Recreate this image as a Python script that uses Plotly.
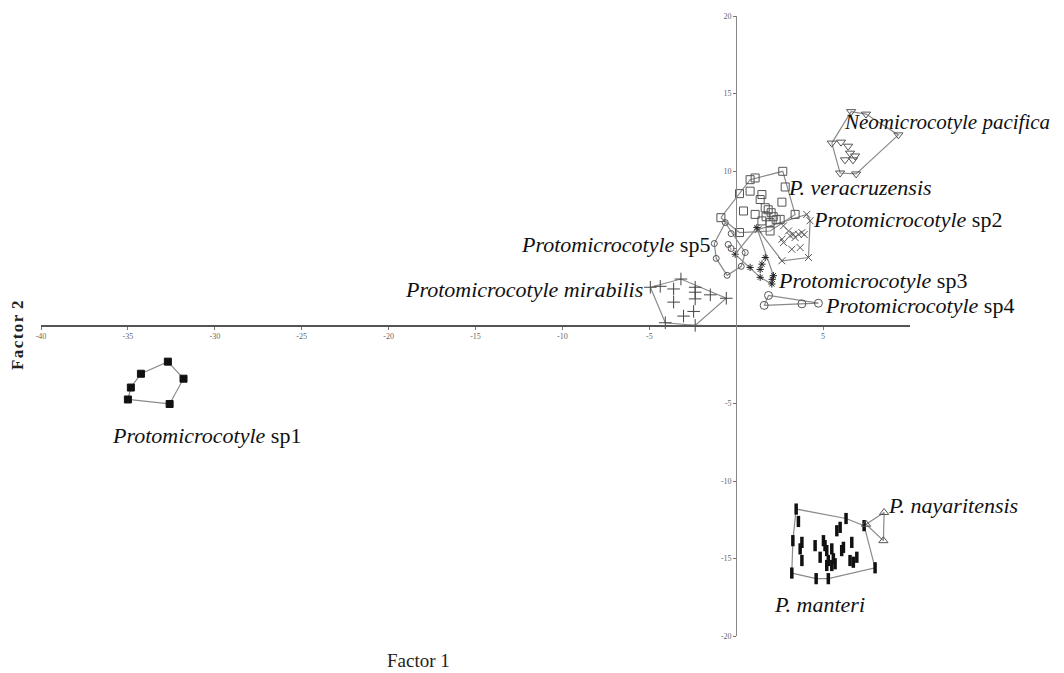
import plotly.graph_objects as go

# ---------------- data (Factor 1, Factor 2) ----------------
sp1_x = [-32.7, -34.25, -34.83, -35.0, -32.6, -31.8]
sp1_y = [-2.3, -3.08, -3.97, -4.74, -5.03, -3.4]

pacifica_x = [6.61, 7.47, 9.33, 5.5, 6.03, 6.44, 6.26, 6.72, 6.84, 5.98, 6.9, 6.55]
pacifica_y = [13.83, 13.67, 12.33, 11.8, 11.86, 11.6, 10.72, 10.72, 10.97, 9.87, 9.81, 11.15]

veracruz_x = [2.68, 1.09, 0.80, 0.80, 0.19, 2.82, 1.48, 1.38, 2.63, 0.42, 1.09, 1.67,
              1.84, 2.01, 2.13, 1.72, 2.30, 3.39, -0.88, 0.19, 1.48, 1.95, 1.95, 2.53]
veracruz_y = [9.98, 9.55, 9.44, 8.70, 8.54, 8.97, 8.48, 8.16, 7.99, 7.42, 7.20, 7.63,
              7.50, 7.31, 7.05, 7.05, 6.86, 7.20, 6.99, 6.03, 6.78, 6.67, 6.13, 6.88]

sp2_x = [1.26, 4.06, 4.25, 4.16, 2.63, 2.72, 3.01, 3.29, 3.58, 3.78, 3.91, 2.63, 2.72,
         3.20, 3.68, 3.39, 3.10]
sp2_y = [6.22, 7.20, 6.79, 4.42, 4.21, 6.46, 6.13, 5.92, 5.92, 6.03, 5.90, 5.60, 5.38,
         4.95, 5.06, 5.71, 5.83]

sp3_x = [1.19, -0.06, 0.80, 1.38, 2.05, 2.14, 1.67, 1.48, 1.38, 2.07]
sp3_y = [6.35, 4.63, 3.78, 3.14, 2.71, 3.25, 4.42, 3.99, 3.65, 3.01]

sp4_x = [1.86, 1.61, 3.78, 4.73]
sp4_y = [1.97, 1.33, 1.43, 1.47]

sp5_x = [-0.63, -1.26, -1.15, -0.52, 0.29, 0.52, -0.29, -0.46, -0.29]
sp5_y = [6.67, 5.32, 4.36, 3.27, 3.85, 4.74, 5.96, 5.26, 5.0]

mirabilis_x = [-4.94, -4.37, -3.18, -3.60, -2.36, -2.36, -1.49, -0.57, -3.60, -2.36,
               -2.45, -3.03, -4.08, -2.36]
mirabilis_y = [2.50, 2.56, 3.03, 2.39, 2.50, 2.18, 2.01, 1.79, 1.54, 1.75,
               0.94, 0.64, 0.21, 0.04]

manteri_x = [3.45, 6.32, 7.36, 7.99, 5.30, 4.60, 3.20, 3.26, 3.58, 3.78, 3.68, 3.78, 4.54,
             5.02, 5.11, 5.21, 5.50, 4.83, 5.30, 5.21, 5.50, 5.69, 5.79, 5.98, 6.17, 6.07,
             6.65, 6.55, 6.74, 6.94, 5.59]
manteri_y = [-11.81, -12.42, -12.88, -15.60, -16.30, -16.30, -15.94, -13.85, -12.61, -13.96,
             -14.38, -15.13, -14.17, -13.85, -14.17, -14.49, -14.38, -14.92, -15.13, -15.45,
             -15.45, -15.34, -13.21, -12.99, -14.28, -14.49, -13.96, -15.13, -15.24, -14.92,
             -15.02]

nayarit_x = [8.51, 8.47, 7.47]
nayarit_y = [-12.03, -13.85, -12.79]

x_ticks = [-40, -35, -30, -25, -20, -15, -10, -5, 5]
y_ticks = [20, 15, 10, 5, -5, -10, -15, -20]

groups = [
    # name, xs, ys, symbol, size, color, line width, label text, label x, label y, anchor, font size
    ("Protomicrocotyle sp1", sp1_x, sp1_y, "square", 7, "#111111", 1,
     "<i>Protomicrocotyle</i> sp1", -36.03, -7.05, "left", 22),
    ("Neomicrocotyle pacifica", pacifica_x, pacifica_y, "triangle-down-open", 8, "#555555", 1,
     "<i>Neomicrocotyle pacifica</i>", 6.1, 13.14, "left", 21),
    ("P. veracruzensis", veracruz_x, veracruz_y, "square-open", 8, "#555555", 1,
     "<i>P. veracruzensis</i>", 2.87, 8.91, "left", 22),
    ("Protomicrocotyle sp2", sp2_x, sp2_y, "x-thin-open", 7, "#555555", 1,
     "<i>Protomicrocotyle</i> sp2", 4.31, 6.86, "left", 22),
    ("Protomicrocotyle sp3", sp3_x, sp3_y, "asterisk-open", 6, "#222222", 1,
     "<i>Protomicrocotyle</i> sp3", 2.30, 2.92, "left", 22),
    ("Protomicrocotyle sp4", sp4_x, sp4_y, "circle-open", 8, "#555555", 1,
     "<i>Protomicrocotyle</i> sp4", 5.00, 1.30, "left", 22),
    ("Protomicrocotyle sp5", sp5_x, sp5_y, "circle-open", 6, "#555555", 1,
     "<i>Protomicrocotyle</i> sp5", -1.39, 5.26, "right", 22),
    ("Protomicrocotyle mirabilis", mirabilis_x, mirabilis_y, "cross-thin-open", 9, "#444444", 1,
     "<i>Protomicrocotyle mirabilis</i>", -5.24, 2.37, "right", 22),
    ("P. manteri", manteri_x, manteri_y, "line-ns-open", 8, "#111111", 3.5,
     "<i>P. manteri</i>", 2.07, -17.95, "left", 22),
    ("P. nayaritensis", nayarit_x, nayarit_y, "triangle-up-open", 8, "#555555", 1,
     "<i>P. nayaritensis</i>", 8.62, -11.6, "left", 22),
]


def convex_hull(xs, ys):
    pts = sorted(set(zip(xs, ys)))
    if len(pts) < 3:
        return pts

    def cross(o, a, b):
        return (a[0] - o[0]) * (b[1] - o[1]) - (a[1] - o[1]) * (b[0] - o[0])

    lower, upper = [], []
    for p in pts:
        while len(lower) >= 2 and cross(lower[-2], lower[-1], p) <= 0:
            lower.pop()
        lower.append(p)
    for p in reversed(pts):
        while len(upper) >= 2 and cross(upper[-2], upper[-1], p) <= 0:
            upper.pop()
        upper.append(p)
    hull = lower[:-1] + upper[:-1]
    return hull + [hull[0]]


fig = go.Figure()
FONT = "Liberation Serif"

for g in groups:
    name, xs, ys = g[0], g[1], g[2]
    hull = convex_hull(xs, ys)
    fig.add_trace(go.Scatter(
        x=[p[0] for p in hull], y=[p[1] for p in hull], mode="lines",
        line=dict(color="#8a8a8a", width=1.2), showlegend=False, hoverinfo="skip"))

for g in groups:
    name, xs, ys, sym, size, color, lw = g[:7]
    fig.add_trace(go.Scatter(
        x=xs, y=ys, mode="markers", name=name, showlegend=False,
        marker=dict(symbol=sym, size=size, color=color, line=dict(color=color, width=lw))))

annotations = []
for g in groups:
    text, lx, ly, anc, fs = g[7], g[8], g[9], g[10], g[11]
    annotations.append(dict(x=lx, y=ly, xref="x", yref="y", text=text, showarrow=False,
                            xanchor=anc, yanchor="middle",
                            font=dict(family=FONT, size=fs, color="#111111")))

annotations.append(dict(x=0.4345, y=0, xref="paper", yref="paper", yshift=-24,
                        text="Factor 1", showarrow=False, xanchor="center", yanchor="middle",
                        font=dict(family=FONT, size=19, color="#222222")))
annotations.append(dict(x=0, y=0.5, xref="paper", yref="paper", xshift=-24, yshift=-10,
                        text="<b>F\u200aa\u200ac\u200at\u200ao\u200ar\u200a 2</b>",
                        showarrow=False, textangle=-90,
                        xanchor="center", yanchor="middle",
                        font=dict(family=FONT, size=17, color="#222222")))

fig.update_layout(
    width=1064, height=673,
    margin=dict(l=33, r=162, t=4, b=45),
    paper_bgcolor="white", plot_bgcolor="white",
    annotations=annotations,
    xaxis=dict(range=[-40, 10], anchor="free", position=0.5, showgrid=False, zeroline=False,
               showline=True, linecolor="#555555", linewidth=1.5,
               tickvals=x_ticks, ticktext=[str(v) for v in x_ticks],
               ticks="outside", ticklen=3, tickcolor="#777777", ticklabeloverflow="allow",
               tickfont=dict(family=FONT, size=8, color="#666666")),
    yaxis=dict(range=[-20, 20], anchor="free", position=0.8, showgrid=False, zeroline=False,
               showline=True, linecolor="#888888", linewidth=1,
               tickvals=y_ticks, ticktext=[str(v) for v in y_ticks],
               ticks="outside", ticklen=3, tickcolor="#777777", ticklabeloverflow="allow",
               tickfont=dict(family=FONT, size=8, color="#666666")),
)

fig.write_html("out.html")
